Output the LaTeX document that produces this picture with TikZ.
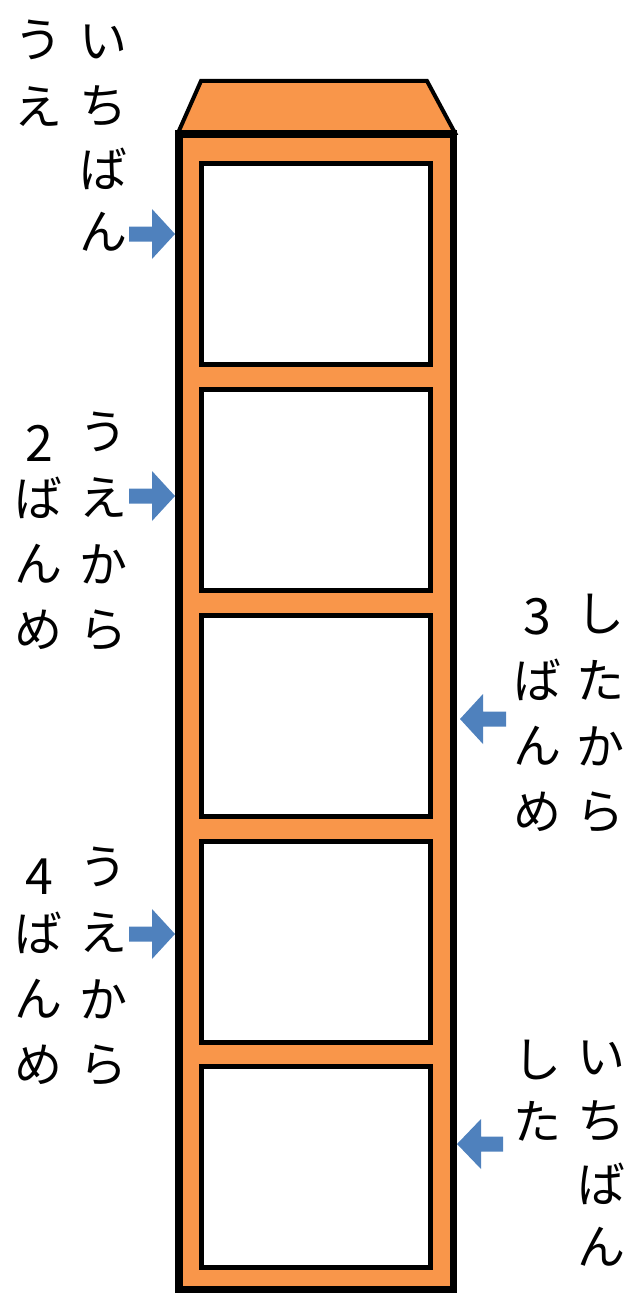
\documentclass[tikz,border=0pt]{standalone}
\usepackage{fontspec}
\newfontfamily\jp{Noto Sans CJK JP}
\definecolor{bodyorange}{HTML}{F9964A}
\definecolor{arrowblue}{HTML}{4F81BD}
\begin{document}
\begin{tikzpicture}[x=1pt,y=-1pt,
  kana/.style={font=\jp\fontsize{48}{56}\selectfont, inner sep=0pt, anchor=center},
  digit/.style={font=\jp\fontsize{50}{56}\selectfont, inner sep=0pt, anchor=center},
  shelfline/.style={draw=black, fill=bodyorange, line join=miter},
  window/.style={draw=black, fill=white, line width=5pt},
  blockarrow/.style={fill=arrowblue, draw=none}]
\useasboundingbox (0,0) rectangle (630,1295);
% roof
\path[shelfline, line width=4pt] (201,81) -- (427,81) -- (455,133) -- (178,133) -- cycle;
% body
\path[shelfline, line width=7.5pt] (179,134) rectangle (453.5,1289.5);
% windows
\foreach \t [count=\i] in {161,387,613,839,1064}
  \path[window] (201.5,\t+2.5) rectangle (430.5,\t+203.5);
% arrows pointing right
\foreach \y [count=\i] in {234,496,934}
  \path[blockarrow] (129,\y-7.5) -- (152,\y-7.5) -- (152,\y-25) -- (175,\y)
     -- (152,\y+25) -- (152,\y+7.5) -- (129,\y+7.5) -- cycle;
% arrows pointing left
\path[blockarrow] (506,711.5) -- (483,711.5) -- (483,694) -- (460,719) -- (483,744) -- (483,726.5) -- (506,726.5) -- cycle;
\path[blockarrow] (503,1136.5) -- (481,1136.5) -- (481,1119) -- (457,1144) -- (481,1169) -- (481,1151.5) -- (503,1151.5) -- cycle;
% top group
\foreach \c/\y [count=\i] in {う/40, え/107}
  \node[kana] (ta\i) at (38,\y) {\c};
\foreach \c/\y [count=\i] in {い/42, ち/106, ば/169, ん/232}
  \node[kana] (tb\i) at (103,\y) {\c};
% group 2
\node[digit] (sa0) at (39,443) {2};
\foreach \c/\y [count=\i] in {ば/498, ん/564, め/630}
  \node[kana] (sa\i) at (38,\y) {\c};
\foreach \c/\y [count=\i] in {う/432, え/498, か/564, ら/630}
  \node[kana] (sb\i) at (103,\y) {\c};
% group 3
\node[digit] (ra0) at (537,617) {3};
\foreach \c/\y [count=\i] in {ば/680, ん/746, め/812}
  \node[kana] (ra\i) at (537,\y) {\c};
\foreach \c/\y [count=\i] in {し/614, た/680, か/746, ら/812}
  \node[kana] (rb\i) at (600,\y) {\c};
% group 4
\node[digit] (fa0) at (39,877) {4};
\foreach \c/\y [count=\i] in {ば/933, ん/999, め/1065}
  \node[kana] (fa\i) at (38,\y) {\c};
\foreach \c/\y [count=\i] in {う/867, え/933, か/999, ら/1065}
  \node[kana] (fb\i) at (103,\y) {\c};
% bottom group
\foreach \c/\y [count=\i] in {し/1060, た/1121}
  \node[kana] (ba\i) at (537,\y) {\c};
\foreach \c/\y [count=\i] in {い/1058, ち/1121, ば/1184, ん/1247}
  \node[kana] (bb\i) at (601,\y) {\c};
\end{tikzpicture}
\end{document}
